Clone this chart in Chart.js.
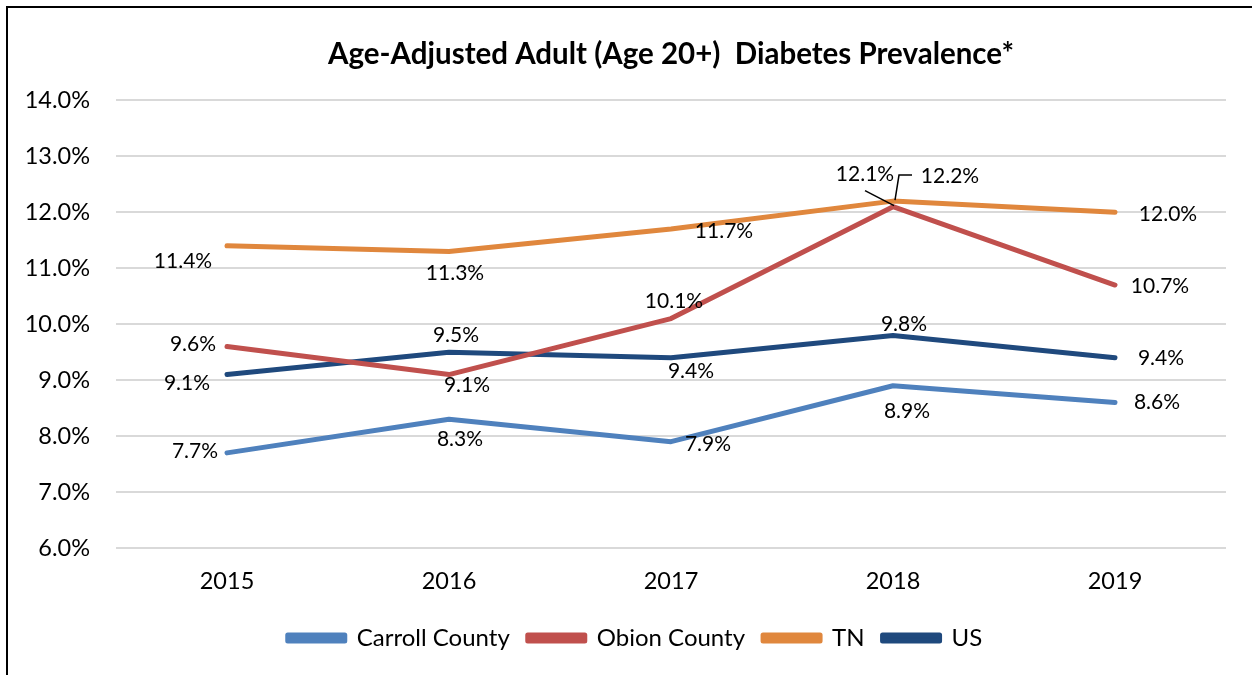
<!DOCTYPE html>
<html lang="en">
<head>
    <meta charset="UTF-8">
    <title>Diabetes Prevalence</title>
    <script src="https://cdn.jsdelivr.net/npm/chart.js"></script>
    <style>
        html, body { margin: 0; padding: 0; background: #fff; overflow: hidden; }
        .frame {
            position: absolute; left: 6px; top: 6px; width: 1300px; height: 700px;
            border-top: 2px solid #000; border-left: 2px solid #000;
        }
        .chartwrap { position: absolute; left: 0; top: 0; width: 1270px; height: 675px; }
    </style>
</head>
<body>
    <div class="frame"></div>
    <div class="chartwrap">
        <canvas id="diabeteschart"></canvas>
    </div>

    <script>
        // Data (percent)
        const years = ['2015', '2016', '2017', '2018', '2019'];
        const carroll = [7.7, 8.3, 7.9, 8.9, 8.6];
        const obion = [9.6, 9.1, 10.1, 12.1, 10.7];
        const tn = [11.4, 11.3, 11.7, 12.2, 12.0];
        const us = [9.1, 9.5, 9.4, 9.8, 9.4];

        // where each value label sits relative to its point (px)
        const labelOffsets = [
            [[-32, -2], [11, 20], [37, 3], [14, 25], [42, 0]],
            [[-34, -2], [18, 11], [3, -17], [-28, -32], [45, 1]],
            [[-44, 15], [6, 22], [53, 2], [57, -25], [53, 2]],
            [[-40, 9], [7, -17], [20, 13], [11, -11], [46, 0]]
        ];
        // leader lines for the crowded 2018 labels: [dataset, index, points]
        const leaders = [
            [1, 3, [[-28, -16], [1, -1]]],
            [2, 3, [[2, -1], [6, -26], [19, -26]]]
        ];

        const font = "Lato, 'Open Sans', sans-serif";

        const valueLabels = {
            id: 'valueLabels',
            afterDatasetsDraw(chart) {
                const ctx = chart.ctx;
                ctx.save();
                ctx.font = '21px ' + font;
                ctx.fillStyle = '#000';
                ctx.textAlign = 'center';
                ctx.textBaseline = 'middle';
                chart.data.datasets.forEach((ds, d) => {
                    chart.getDatasetMeta(d).data.forEach((pt, i) => {
                        const off = labelOffsets[d][i];
                        ctx.fillText(ds.data[i].toFixed(1) + '%', pt.x + off[0], pt.y + off[1]);
                    });
                });
                ctx.strokeStyle = '#000';
                ctx.lineWidth = 1.5;
                leaders.forEach(([d, i, pts]) => {
                    const pt = chart.getDatasetMeta(d).data[i];
                    ctx.beginPath();
                    pts.forEach((p, k) => {
                        if (k === 0) ctx.moveTo(pt.x + p[0], pt.y + p[1]);
                        else ctx.lineTo(pt.x + p[0], pt.y + p[1]);
                    });
                    ctx.stroke();
                });
                ctx.restore();
            }
        };

        function series(label, data, color) {
            return {
                label: label,
                data: data,
                borderColor: color,
                backgroundColor: color,
                borderWidth: 5,
                borderCapStyle: 'round',
                borderJoinStyle: 'round',
                pointRadius: 0,
                tension: 0
            };
        }

        new Chart(document.getElementById('diabeteschart'), {
            type: 'line',
            data: {
                labels: years,
                datasets: [
                    series('Carroll County', carroll, '#4F81BD'),
                    series('Obion County', obion, '#C0504D'),
                    series('TN', tn, '#E0873D'),
                    series('US', us, '#1F497D')
                ]
            },
            options: {
                responsive: true,
                maintainAspectRatio: false,
                animation: false,
                layout: { padding: { left: 0, right: 0, top: 0, bottom: 15 } },
                plugins: {
                    title: {
                        display: true,
                        fullSize: false,
                        text: 'Age-Adjusted Adult (Age 20+)  Diabetes Prevalence*',
                        color: '#000',
                        font: { family: font, size: 29.5, weight: 'bold' },
                        padding: { top: 37, bottom: 28 }
                    },
                    legend: {
                        position: 'bottom',
                        labels: {
                            color: '#000',
                            font: { family: font, size: 24 },
                            boxWidth: 57,
                            boxHeight: 6,
                            padding: 18
                        }
                    },
                    tooltip: { enabled: false }
                },
                scales: {
                    x: {
                        offset: true,
                        afterFit(scale) { scale.height = 60; },
                        grid: { display: false, drawTicks: false },
                        border: { display: false },
                        ticks: { color: '#000', font: { family: font, size: 23.5 }, padding: 19 }
                    },
                    y: {
                        min: 6,
                        max: 14,
                        afterFit(scale) { scale.width = 116; },
                        grid: { color: '#D9D9D9', lineWidth: 2, drawTicks: false },
                        border: { display: false },
                        ticks: {
                            stepSize: 1,
                            color: '#000',
                            font: { family: font, size: 23.5 },
                            padding: 26,
                            callback: v => v.toFixed(1) + '%'
                        }
                    },
                    // empty strip on the right so the plot ends where the reference does
                    yRight: {
                        position: 'right',
                        afterFit(scale) { scale.width = 44; },
                        grid: { display: false, drawTicks: false },
                        border: { display: false },
                        ticks: { display: false }
                    }
                }
            },
            plugins: [valueLabels]
        });
    </script>
</body>
</html>
